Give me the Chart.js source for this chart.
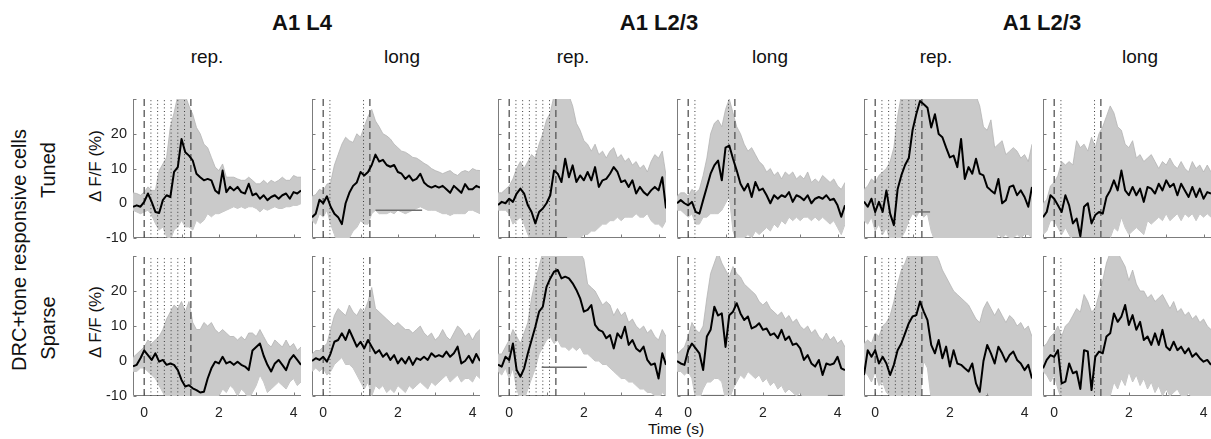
<!DOCTYPE html>
<html>
<head>
<meta charset="utf-8">
<title>DRC+tone responsive cells</title>
<script src="https://cdn.jsdelivr.net/npm/chart.js@4.4.1/dist/chart.umd.min.js"></script>
<style>
  body { margin: 0; background: #fff; }
  #fig {
    position: relative; width: 1211px; height: 439px; overflow: hidden;
    font-family: "Liberation Sans", Arial, Helvetica, sans-serif; color: #111;
  }
  .lbl { position: absolute; transform: translate(-50%, -50%); white-space: nowrap; line-height: 1; }
  .rot { transform: translate(-50%, -50%) rotate(-90deg); }
  .head { font-size: 22px; font-weight: bold; }
  .sub { font-size: 19px; }
  .row { font-size: 20px; }
  .ylab { font-size: 17px; }
  canvas { position: absolute; }
</style>
</head>
<body>
<div id="fig">
  <div class="lbl head" style="left:302px;top:23px">A1 L4</div>
  <div class="lbl head" style="left:659px;top:23px">A1 L2/3</div>
  <div class="lbl head" style="left:1042px;top:23px">A1 L2/3</div>

  <div class="lbl sub" style="left:207px;top:56px">rep.</div>
  <div class="lbl sub" style="left:402px;top:56px">long</div>
  <div class="lbl sub" style="left:573px;top:56px">rep.</div>
  <div class="lbl sub" style="left:770px;top:56px">long</div>
  <div class="lbl sub" style="left:936px;top:56px">rep.</div>
  <div class="lbl sub" style="left:1140px;top:56px">long</div>

  <div class="lbl rot row" style="left:19px;top:250px">DRC+tone responsive cells</div>
  <div class="lbl rot row" style="left:48px;top:170px">Tuned</div>
  <div class="lbl rot row" style="left:48px;top:328px">Sparse</div>
  <div class="lbl rot ylab" style="left:95px;top:166px">Δ F/F (%)</div>
  <div class="lbl rot ylab" style="left:95px;top:322px">Δ F/F (%)</div>

  <div class="lbl" style="left:676px;top:429px;font-size:15.5px">Time (s)</div>
</div>
<script>
// time base (s) and markers
const times = [-0.3, -0.2, -0.1, 0, 0.1, 0.2, 0.3, 0.4, 0.5, 0.6, 0.7, 0.8, 0.9, 1.0, 1.1, 1.2,
  1.3, 1.4, 1.5, 1.6, 1.7, 1.8, 1.9, 2.0, 2.1, 2.2, 2.3, 2.4, 2.5, 2.6, 2.7, 2.8, 2.9, 3.0,
  3.1, 3.2, 3.3, 3.4, 3.5, 3.6, 3.7, 3.8, 3.9, 4.0, 4.1, 4.2];
const repDashed = [0, 1.25];
const repDotted = [0.18, 0.36, 0.54, 0.72, 0.9, 1.08];
const longDashed = [0, 1.25];
const longDotted = [0.18, 1.08];
const xTickLabels = [0, 2, 4];
const yTickLabels = [-10, 0, 10, 20];
const xTickMarks = [0, 1, 2, 3, 4];
const yTickMarks = [-10, 0, 10, 20, 30];

// A1 L4, tuned
const l4RepTunedMean = [-1, -0.6, -1, 0.4, 2.8, 0.4, -2.5, -2.8, 0.9, 2.3, 1.8, 9, 10.4, 18.5, 14.7, 13.7, 12.3, 8.5, 7.5, 6.6, 7, 6.6, 3.7, 2.8, 9.4, 3.2, 4.7, 3.7, 4.7, 3.2, 2.8, 5.6, 2.3, 2.8, 1.3, 2.3, 0.9, 1.8, 2.3, 1.3, 2.3, 2.8, 1.3, 3.2, 2.8, 3.7];
const l4RepTunedHi = [3, 2.8, 2.3, 3.2, 4.7, 3.7, 3.7, 9.4, 11.3, 13.2, 22, 26, 31, 31, 31, 28, 25.6, 21.8, 20, 17, 16, 13.2, 10.4, 9.4, 11.3, 7.5, 7.5, 7.5, 7, 6.6, 6.6, 7.5, 6.6, 5.6, 5.6, 6.6, 5.6, 6.6, 6, 6.6, 7.5, 6.6, 6.6, 8, 7.5, 7.5];
const l4RepTunedLo = [-2, -2.5, -3, -2.5, -2, -3.4, -5.8, -7.7, -6.8, -9.6, -10.6, -7.7, -6.8, -4.9, -6.8, -6.8, -7.7, -4.9, -5.8, -4.9, -3, -3.9, -3, -3, -2.5, -2, -1.5, -1, -1.5, -1, -1.5, -1, -1, -1.5, -2.5, -1.5, -2, -1.5, -1, -1.5, -1.5, -1, -1, -0.6, -0.6, -0.1];
const l4LongTunedMean = [-4, -3, 1, 0, 2, -1, -3, -4, -6, 0, 3, 5, 6, 9, 8, 9, 11, 14, 12, 12.5, 11, 10.5, 11, 9, 8.5, 7, 8, 6.5, 7, 8.5, 6, 5, 4.5, 5, 4.5, 5, 4, 3, 5, 4, 3, 5.5, 4, 4, 5, 4.5];
const l4LongTunedHi = [2, 2.5, 4, 3.5, 5.5, 6, 11, 14, 17, 19, 18, 17.5, 20, 19, 22, 25, 27, 23.7, 22, 20, 19.4, 18.5, 17, 16, 15, 14.7, 14, 13.2, 13, 12.3, 11.5, 10.9, 10, 9.4, 9, 8.5, 9, 9.4, 8.5, 8, 9, 9.4, 9, 10, 9.5, 9.4];
const l4LongTunedLo = [-5, -6, -3, -4, -2, -6, -9, -12, -14, -12, -10, -8, -7, -5, -6, -6, -3, -2, -3, -3, -3, -2.5, -3, -2, -2.5, -3, -2.5, -2, -1.5, -1, -1.5, -2, -2, -2, -2.5, -3, -3, -3.5, -3, -3, -3, -3, -2, -2, -2.5, -3];

// A1 L2/3 (first), tuned
const l23aRepTunedMean = [-0.5, 0.4, 0, 1.3, 0.4, 2.8, 4.2, 2.8, -0.6, -2.5, -5.8, -2.5, -1.5, 0, 2.3, 9.4, 8.5, 6.1, 12.8, 7.5, 10.9, 6.1, 8, 6.6, 9, 6.6, 10.4, 4.7, 6.6, 7, 8.5, 10.4, 9, 6.1, 6.6, 4.7, 6.6, 2.8, 4.7, 3.2, 2.3, 3.7, 4.7, 3.7, 7.5, -1.5];
const l23aRepTunedHi = [3, 3, 4, 5, 7, 10, 12, 10, 12, 14, 13, 17, 20, 24, 26, 31, 31, 31, 31, 31, 28, 23, 21, 18, 17, 15, 17, 14, 15, 13, 15, 16, 13, 14, 12, 13, 11, 12, 10, 11, 9, 12, 14, 13, 15, 8];
const l23aRepTunedLo = [-2, -2, -2, -3, -6, -5, -4, -6, -9, -11, -12, -11, -10, -11, -12, -11, -12, -12, -11, -11, -11, -11, -10, -9, -9, -8, -8, -7, -6, -6, -5, -5, -4, -5, -4, -4, -4, -3, -4, -4, -3, -5, -6, -6, -7, -5];
const l23aLongTunedMean = [0, 0.9, 0, -0.6, 0.4, -2.5, -3, 0.9, 4.7, 8.5, 10.9, 12.3, 6.6, 16, 16.6, 12.8, 9.4, 5.6, 3.7, 5.6, 1.8, 6.1, 3.7, 4.2, 2.3, 0, 2.3, 1.3, 2.3, 1.8, 3.2, 0.4, 2.3, 1.8, 0.9, 2.3, 0, 1.3, 1.8, 1.3, 2.3, 0.9, 1.3, -0.6, -3.9, -0.6];
const l23aLongTunedHi = [2, 3, 3, 2, 4, 3, 4, 8, 13, 20, 23, 24, 22, 27, 30, 26, 22, 20, 17, 15, 16, 14, 12, 11, 9, 10, 8, 9, 7, 9, 8, 9, 7, 8, 7, 9, 6, 7, 6, 8, 7, 6, 7, 5, 4, 6];
const l23aLongTunedLo = [-2, -2, -3, -4, -3, -6, -6, -4, -4, -3, -3, -3, -2, 0, 2, -8, -11, -11, -10, -9, -10, -8, -9, -8, -7, -8, -6, -7, -5, -6, -4, -5, -4, -5, -4, -4, -5, -4, -5, -4, -5, -6, -5, -7, -9, -6];

// A1 L2/3 (second), tuned
const l23bRepTunedMean = [0.5, -1, 1.3, -2.5, 0.4, -2.5, 3.7, -3, -6.3, 4, 8, 11, 13, 21, 25.6, 29.4, 28.5, 27.5, 21.8, 25.6, 19.9, 19, 16, 13.2, 13.7, 10.4, 18.5, 7, 10.4, 8.5, 12.8, 8.5, 8, 4.7, 3.7, 2.8, 7, 0, 0.9, 4.7, 5.1, 2.3, 3.7, 1.8, -1, 4.7];
const l23bRepTunedHi = [4, 5, 7, 6, 8, 9, 10, 12, 16, 25, 31, 31, 31, 31, 31, 31, 31, 31, 31, 31, 31, 31, 31, 31, 31, 31, 31, 31, 31, 31, 31, 28, 22, 21, 24, 16, 17, 18, 14, 15, 16, 15, 13, 14, 12, 17];
const l23bRepTunedLo = [-5, -6, -4, -8, -6, -9, -7, -11, -12, -11, -10, -8, -5, -3, -4, -2, -4, -3, -8, -11, -11, -11, -11, -11, -11, -11, -11, -11, -11, -11, -11, -11, -11, -10, -11, -11, -9, -10, -9, -10, -10, -9, -10, -9, -9, -10];
const l23bLongTunedMean = [-4, -2.5, 2.3, 1.3, -0.6, -2.5, 2.3, -0.6, -5.8, -4.4, -9.5, -1, 0, -5.8, -3.4, -2.5, -3, 1.8, 3.7, 6.6, 3.7, 9.4, 3.7, 2.3, 4.7, 2.3, 4.2, 0.4, 4.7, 4.2, 2.8, 5.6, 3.7, 6.6, 4.7, 5.6, 2.3, 5.6, 3.7, 1.8, 4.7, 1.8, 4.2, 1.3, 3.2, 2.8];
const l23bLongTunedHi = [0, 1, 5, 6, 8, 12, 11, 12, 11, 18, 16, 17, 15, 19, 16, 20, 22, 25, 28, 26, 22, 21, 17, 16, 18, 13, 14, 12, 13, 14, 12, 10, 12, 11, 13, 11, 10, 12, 10, 9, 12, 10, 11, 9, 11, 9];
const l23bLongTunedLo = [-9, -8, -5, -5, -7, -9, -7, -9, -11, -11, -11, -11, -11, -11, -11, -11, -11, -11, -10, -7, -8, -4, -7, -9, -8, -7, -8, -9, -5, -6, -5, -4, -5, -3, -5, -4, -3, -5, -3, -4, -3, -5, -3, -4, -3, -4];

// A1 L4, sparse
const l4RepSparseMean = [-1.5, -1.1, 0.8, 3, 1.7, 0.3, 2.2, -0.2, 0.3, -1.1, -0.7, -1.1, -2.6, -5.4, -7.3, -6.9, -7.8, -8.3, -9, -8.8, -5, -2.1, -0.2, -0.7, 1.2, -0.7, -0.2, -1.1, -0.2, -1.1, -1.6, -2.6, 3, 4, 5, 1.5, -1.1, -3, -0.7, 0.3, -1.1, -2.6, 0.3, 1.7, 0.3, -1.1];
const l4RepSparseHi = [1, 2, 3, 4, 6, 5, 6, 7, 9, 12, 14, 16, 15, 17, 14, 17, 11, 9, 9, 11, 10, 11, 9, 8, 9, 8, 7, 7, 6, 7, 6, 8, 8, 7, 9, 7, 5, 4, 6, 5, 4, 6, 4, 5, 3, 4];
const l4RepSparseLo = [-3, -3, -2, -2, -3, -4, -5, -7, -9, -11, -11, -11, -11, -11, -11, -11, -11, -11, -11, -11, -11, -11, -11, -10, -8, -9, -7, -8, -10, -8, -9, -11, -9, -7, -4, -6, -9, -8, -7, -6, -7, -8, -6, -5, -7, -6];
const l4LongSparseMean = [0, 0.8, 0.3, 1.2, -0.2, 2.2, 5.5, 6, 7.9, 6, 8.9, 6.5, 4.1, 5.5, 3.6, 6, 4.1, 2.2, 3.1, 1.2, 2.2, 0.3, 1.7, -0.7, 0.8, -0.7, 1.2, -1.1, 0.8, 0.3, 1.2, 0.3, 2.2, 1.2, 1.7, 1.2, 2.7, 1.2, 2.2, 4.1, -0.7, 0, 1.5, -0.5, 2, 0];
const l4LongSparseHi = [2, 3, 3, 4, 5, 9, 13, 15, 14, 13, 16, 14, 13, 15, 14, 17, 21, 15, 14, 13, 12, 11, 10, 11, 10, 9, 9, 8, 9, 10, 8, 7, 8, 6, 7, 9, 7, 6, 8, 10, 9, 7, 8, 6, 8, 9];
const l4LongSparseLo = [-3, -2, -3, -2, -4, -3, -1, 0, 1, -1, -1, -2, -4, -6, -8, -6, -10, -7, -8, -7, -9, -8, -9, -7, -8, -9, -7, -8, -7, -6, -7, -8, -6, -7, -6, -5, -4, -6, -5, -4, -6, -5, -5, -6, -4, -5];

// A1 L2/3 (first), sparse
const l23aRepSparseMean = [-1, -1.6, 1.2, 0.3, 5, -2.6, -4.5, -2.1, 2.2, 6, 9.8, 14.1, 15.5, 21.2, 23.6, 25.5, 26, 23.6, 24.1, 23.6, 22.2, 20.3, 17.9, 14.1, 14.6, 16, 10.3, 8.9, 8.4, 6.5, 7.4, 3.6, 7.9, 6.5, 9.8, 4.6, 6, 3.6, 2.7, 4.1, 0.3, -1.1, -0.7, -5, 2.2, -1.1];
const l23aRepSparseHi = [2, 2, 4, 6, 9, 7, 5, 8, 11, 18, 23, 27, 31, 31, 31, 31, 31, 31, 31, 31, 31, 31, 31, 29, 22, 21, 20, 18, 16, 17, 16, 13, 15, 13, 14, 11, 12, 10, 9, 10, 8, 9, 7, 6, 9, 7];
const l23aRepSparseLo = [-3, -4, -2, -5, -2, -8, -11, -11, -8, -5, -2, 2, 4, 6, 7, 5, 6, 4, 4, 3, 4, 3, 4, 2, 2, 1, 0, 0, -1, -1, -2, -3, -4, -5, -5, -6, -6, -7, -8, -8, -9, -9, -10, -11, -9, -10];
const l23aLongSparseMean = [0, -0.7, -1.1, 3.1, 5, 3.6, 2.2, -2.6, 7, 8.9, 15.5, 13, 13.6, 4, 13.1, 14.1, 16.5, 13.6, 11.7, 12.7, 9.3, 9.8, 10.8, 8.9, 9.3, 7.4, 7.9, 6.5, 8.9, 6, 7, 4.6, 5, 3.6, 0.3, 1.7, -0.7, -1.6, 0.3, -4, -0.7, -1.1, -0.7, 1.2, -2.1, -2.6];
const l23aLongSparseHi = [2, 3, 4, 7, 11, 9, 8, 10, 18, 25, 28, 31, 28, 26, 24, 27, 25, 24, 22, 21, 20, 19, 17, 16, 17, 15, 14, 13, 14, 12, 13, 11, 12, 10, 9, 10, 8, 9, 7, 6, 8, 6, 7, 5, 6, 4];
const l23aLongSparseLo = [-3, -3, -4, -3, -5, -11, -11, -8, -6, -6, -5, -5, -6, -11, -11, -8, -6, -4, -5, -3, -4, -5, -4, -6, -5, -7, -6, -8, -7, -9, -8, -9, -10, -9, -11, -10, -11, -11, -10, -11, -11, -10, -11, -11, -11, -11];

// A1 L2/3 (second), sparse
const l23bRepSparseMean = [-4, 3.1, 1.2, 3.1, -0.7, 1.2, -0.7, -4, -1.1, 3.1, 5, 7.9, 10.8, 12.7, 13.1, 17, 14.1, 11.7, 4.6, 2.2, 6, 0.8, 4.1, -1.6, 3.1, -0.7, -1.1, -2.1, -3, -0.7, -6.4, -8.8, 0, 4.6, 2.2, -0.7, 4.1, 2.2, -0.2, 1.7, 2.7, 0.3, -0.7, -2.6, -1.1, -5];
const l23bRepSparseHi = [5, 6, 5, 8, 7, 10, 11, 13, 17, 22, 26, 28, 31, 31, 31, 31, 31, 31, 31, 31, 29, 26, 24, 22, 20, 19, 18, 17, 16, 14, 12, 11, 15, 17, 15, 13, 15, 13, 11, 13, 12, 10, 11, 9, 10, 7];
const l23bRepSparseLo = [-3, -4, -6, -3, -7, -6, -9, -10, -11, -11, -11, -11, -11, -11, -11, -11, 0, -2, -11, -11, -11, -11, -11, -11, -11, -11, -11, -11, -11, -11, -11, -11, -11, -9, -11, -11, -11, -11, -11, -11, -11, -11, -11, -11, -11, -11];
const l23bLongSparseMean = [-2.1, 0.3, 1.7, 1.2, 3.1, -6.4, -5.9, -0.7, -3.5, -3, -8, 3.1, 2.7, -8.3, 1.2, 2.7, 2.2, 7, 7.9, 13.6, 11.2, 12.7, 16, 10.3, 13.1, 8.9, 11.2, 6, 7, 4.6, 7.9, 4.6, 8.9, 4.1, 3.1, 5.5, 3.1, 4.1, 2.2, 3.6, 1.2, 2.2, 0.8, -0.2, 0.3, -1.1];
const l23bLongSparseHi = [4, 5, 7, 8, 10, 7, 10, 11, 13, 15, 14, 19, 17, 14, 15, 19, 23, 28, 31, 31, 31, 29, 27, 23, 26, 22, 20, 20, 18, 19, 17, 18, 19, 17, 15, 17, 14, 15, 13, 14, 12, 13, 11, 12, 10, 9];
const l23bLongSparseLo = [-3, -4, -6, -4, -8, -11, -11, -11, -11, -11, -11, -11, -11, -11, -11, -11, -11, -11, -10, -6, -8, -5, -7, -3, -6, -4, -7, -5, -8, -6, -9, -7, -10, -8, -10, -9, -8, -10, -11, -9, -11, -10, -11, -10, -11, -10];

// significance bars: [from, to, level]
const l4LongTunedBars = [[1.4, 2.65, -2]];
const l23aRepTunedBars = [[0.5, 1.55, -10]];
const l23bRepTunedBars = [[1.07, 1.47, -2.5]];
const l23bLongTunedBars = [[0.48, 1.5, -10]];
const l23aRepSparseBars = [[0.87, 2.08, -1.8]];
const l23aLongSparseBars = [[0.4, 0.95, -10], [3.74, 4.14, -10]];

Chart.defaults.font.family = '"Liberation Sans", Arial, Helvetica, sans-serif';
Chart.defaults.color = '#222';

const panels = [
  { row: 0, col: 0, mean: l4RepTunedMean, hi: l4RepTunedHi, lo: l4RepTunedLo, kind: 'rep', bars: [] },
  { row: 0, col: 1, mean: l4LongTunedMean, hi: l4LongTunedHi, lo: l4LongTunedLo, kind: 'long', bars: l4LongTunedBars },
  { row: 0, col: 2, mean: l23aRepTunedMean, hi: l23aRepTunedHi, lo: l23aRepTunedLo, kind: 'rep', bars: l23aRepTunedBars },
  { row: 0, col: 3, mean: l23aLongTunedMean, hi: l23aLongTunedHi, lo: l23aLongTunedLo, kind: 'long', bars: [] },
  { row: 0, col: 4, mean: l23bRepTunedMean, hi: l23bRepTunedHi, lo: l23bRepTunedLo, kind: 'rep', bars: l23bRepTunedBars },
  { row: 0, col: 5, mean: l23bLongTunedMean, hi: l23bLongTunedHi, lo: l23bLongTunedLo, kind: 'long', bars: l23bLongTunedBars },
  { row: 1, col: 0, mean: l4RepSparseMean, hi: l4RepSparseHi, lo: l4RepSparseLo, kind: 'rep', bars: [] },
  { row: 1, col: 1, mean: l4LongSparseMean, hi: l4LongSparseHi, lo: l4LongSparseLo, kind: 'long', bars: [] },
  { row: 1, col: 2, mean: l23aRepSparseMean, hi: l23aRepSparseHi, lo: l23aRepSparseLo, kind: 'rep', bars: l23aRepSparseBars },
  { row: 1, col: 3, mean: l23aLongSparseMean, hi: l23aLongSparseHi, lo: l23aLongSparseLo, kind: 'long', bars: l23aLongSparseBars },
  { row: 1, col: 4, mean: l23bRepSparseMean, hi: l23bRepSparseHi, lo: l23bRepSparseLo, kind: 'rep', bars: [] },
  { row: 1, col: 5, mean: l23bLongSparseMean, hi: l23bLongSparseHi, lo: l23bLongSparseLo, kind: 'long', bars: [] },
];

// layout of the plot areas
const colLeft = [133, 312, 498, 677, 864, 1043];
const rowTop = [99, 256];
const rowH = [139, 140];
const areaW = 168;

// matlab-like axes: box lines at left/bottom, ticks pointing inwards
const matlabAxes = {
  id: 'matlabAxes',
  beforeDatasetsDraw(chart) {
    const { ctx, chartArea: a, scales: { x, y } } = chart;
    const lx = Math.round(a.left) + 0.5;
    const by = Math.round(a.bottom) - 0.5;
    ctx.save();
    ctx.strokeStyle = '#7c7c7c';
    ctx.lineWidth = 1;
    ctx.beginPath();
    ctx.moveTo(lx, a.top);
    ctx.lineTo(lx, by);
    ctx.lineTo(a.right, by);
    yTickMarks.forEach(v => {
      const py = Math.round(y.getPixelForValue(v)) + 0.5;
      ctx.moveTo(lx, py);
      ctx.lineTo(lx + 3, py);
    });
    xTickMarks.forEach(v => {
      const px = Math.round(x.getPixelForValue(v)) + 0.5;
      ctx.moveTo(px, by);
      ctx.lineTo(px, by - 3);
    });
    ctx.stroke();
    ctx.restore();
  }
};

function pts(arr) {
  return times.map((t, i) => ({ x: t, y: arr[i] }));
}

function vline(t, dotted) {
  return {
    data: [{ x: t, y: -10 }, { x: t, y: 30 }],
    borderColor: dotted ? '#3c3c3c' : '#555',
    borderWidth: dotted ? 1 : 1.3,
    borderDash: dotted ? [1, 2.6] : [7, 4],
    fill: false,
    order: 2,
  };
}

function makePanel(p) {
  const padL = p.col === 0 ? 50 : 6;
  const padR = 6, padT = 10, padB = 30;
  const h = rowH[p.row];
  const fig = document.getElementById('fig');
  const cv = document.createElement('canvas');
  cv.width = areaW + padL + padR;
  cv.height = h + padT + padB;
  cv.style.left = (colLeft[p.col] - padL) + 'px';
  cv.style.top = (rowTop[p.row] - padT) + 'px';
  cv.style.width = cv.width + 'px';
  cv.style.height = cv.height + 'px';
  fig.appendChild(cv);

  const datasets = [
    { data: pts(p.lo), borderColor: '#b4b4b4', borderWidth: 0.8, fill: false, order: 5 },
    { data: pts(p.hi), borderColor: '#b4b4b4', borderWidth: 0.8, backgroundColor: '#cacaca', fill: '-1', order: 4 },
  ];
  const dashed = p.kind === 'rep' ? repDashed : longDashed;
  const dotted = p.kind === 'rep' ? repDotted : longDotted;
  dashed.forEach(t => datasets.push(vline(t, false)));
  dotted.forEach(t => datasets.push(vline(t, true)));
  p.bars.forEach(b => datasets.push({
    data: [{ x: b[0], y: b[2] }, { x: b[1], y: b[2] }],
    borderColor: '#6e6e6e', borderWidth: b[2] === -10 ? 2.2 : 1.4, fill: false, order: 1,
  }));
  datasets.push({ data: pts(p.mean), borderColor: '#000', borderWidth: 2, fill: false, order: 0 });

  new Chart(cv, {
    type: 'line',
    data: { datasets },
    options: {
      responsive: false,
      animation: false,
      devicePixelRatio: 1,
      layout: { padding: { top: padT, right: padR, left: 0, bottom: 0 } },
      elements: { point: { radius: 0 }, line: { tension: 0, borderJoinStyle: 'round' } },
      plugins: { legend: { display: false }, tooltip: { enabled: false } },
      scales: {
        x: {
          type: 'linear', min: -0.3, max: 4.2,
          grid: { display: false, drawTicks: false },
          border: { display: false },
          ticks: { display: p.row === 1, padding: 9, font: { size: 14 }, color: '#222' },
          afterBuildTicks: s => { s.ticks = xTickLabels.map(v => ({ value: v })); },
          afterFit: s => { s.height = padB; s.paddingLeft = 0; s.paddingRight = 0; },
        },
        y: {
          type: 'linear', min: -10, max: 30,
          grid: { display: false, drawTicks: false },
          border: { display: false },
          ticks: { display: p.col === 0, padding: 6, font: { size: 14.5 }, color: '#222' },
          afterBuildTicks: s => { s.ticks = yTickLabels.map(v => ({ value: v })); },
          afterFit: s => { s.width = padL; s.paddingTop = 0; s.paddingBottom = 0; },
        },
      },
    },
    plugins: [matlabAxes],
  });
}

panels.forEach(makePanel);
</script>
</body>
</html>
